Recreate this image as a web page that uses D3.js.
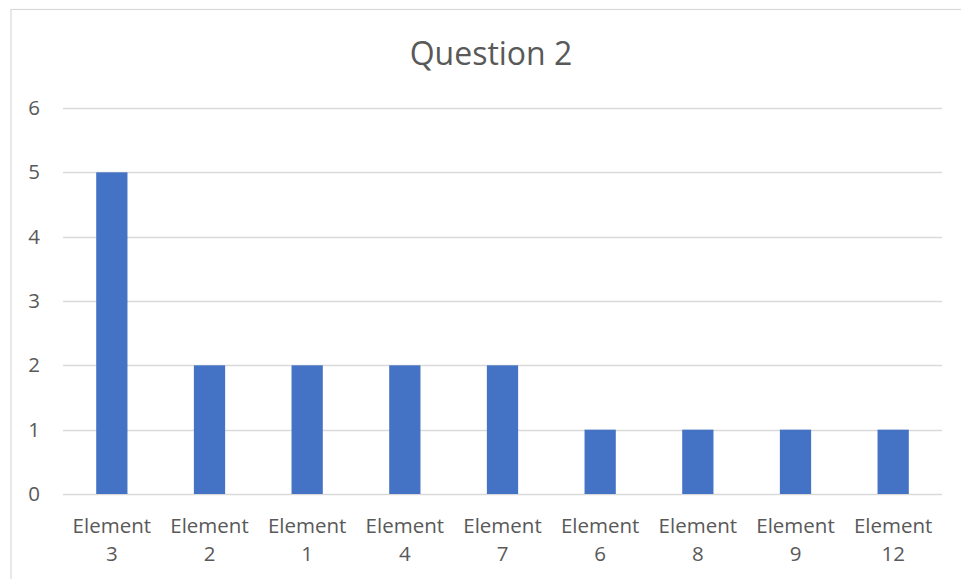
<!DOCTYPE html>
<html>
<head>
<meta charset="utf-8">
<script src="https://cdn.jsdelivr.net/npm/d3@7"></script>
<style>
  body { margin: 0; background: #ffffff; }
  svg { display: block; }
</style>
</head>
<body>
<div id="chart"></div>
<script>
// Chart data
const categories = ["Element 3", "Element 2", "Element 1", "Element 4", "Element 7", "Element 6", "Element 8", "Element 9", "Element 12"];
const values = [5, 2, 2, 2, 2, 1, 1, 1, 1];
const yTicks = [0, 1, 2, 3, 4, 5, 6];
const chartTitle = "Question 2";

const width = 961, height = 579;
const margin = { top: 108, right: 19, bottom: 85, left: 63 };
const textColor = "#595959";
const fontFamily = "'Open Sans', 'Noto Sans', sans-serif";

const svg = d3.select("#chart").append("svg")
    .attr("width", width)
    .attr("height", height);

// Outer chart border (partly cut off by the window)
svg.append("rect")
    .attr("x", 11).attr("y", 9.5)
    .attr("width", width + 20).attr("height", height + 20)
    .attr("fill", "#ffffff")
    .attr("stroke", "#d9d9d9")
    .attr("stroke-width", 1.2);

const x = d3.scaleBand()
    .domain(categories)
    .range([margin.left, width - margin.right])
    .padding(0);

const y = d3.scaleLinear()
    .domain([0, 6])
    .range([height - margin.bottom, margin.top]);

// Grid lines
svg.append("g")
    .selectAll("line")
    .data(yTicks)
    .join("line")
    .attr("x1", margin.left)
    .attr("x2", width - margin.right)
    .attr("y1", d => Math.round(y(d)) + 0.5)
    .attr("y2", d => Math.round(y(d)) + 0.5)
    .attr("stroke", "#d9d9d9")
    .attr("stroke-width", 1.3);

// Y axis labels
svg.append("g")
    .selectAll("text")
    .data(yTicks)
    .join("text")
    .attr("x", 40)
    .attr("y", d => y(d) + 7)
    .attr("text-anchor", "end")
    .attr("fill", textColor)
    .style("font-family", fontFamily)
    .style("font-size", "20.5px")
    .text(d => d);

// Bars
const barW = x.step() * 0.32;
svg.append("g")
    .selectAll("rect")
    .data(categories)
    .join("rect")
    .attr("x", (d, i) => x(d) + x.bandwidth() / 2 - barW / 2)
    .attr("y", (d, i) => y(values[i]))
    .attr("width", barW)
    .attr("height", (d, i) => y(0) - y(values[i]))
    .attr("fill", "#4472c4");

// X axis labels (two lines)
const xl = svg.append("g")
    .selectAll("text")
    .data(categories)
    .join("text")
    .attr("text-anchor", "middle")
    .attr("fill", textColor)
    .style("font-family", fontFamily)
    .style("font-size", "20.5px");

xl.append("tspan")
    .attr("x", d => x(d) + x.bandwidth() / 2)
    .attr("y", 533)
    .text(d => d.split(" ")[0]);

xl.append("tspan")
    .attr("x", d => x(d) + x.bandwidth() / 2)
    .attr("y", 561)
    .text(d => d.split(" ")[1]);

// Title
svg.append("text")
    .attr("x", 491)
    .attr("y", 65)
    .attr("text-anchor", "middle")
    .attr("fill", textColor)
    .style("font-family", fontFamily)
    .style("font-size", "32px")
    .text(chartTitle);
</script>
</body>
</html>
